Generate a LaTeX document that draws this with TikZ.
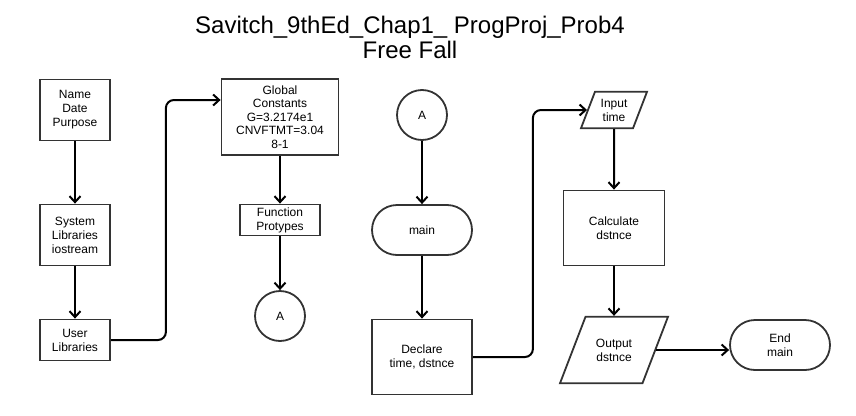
\documentclass[tikz,border=0pt]{standalone}
\usepackage{fontspec}
\setmainfont{Liberation Sans}
\usetikzlibrary{shapes.geometric,arrows.meta}

\begin{document}
\begin{tikzpicture}[x=1pt, y=-1pt,
	every node/.style={font=\fontsize{12}{14}\selectfont, align=center},
	proc/.style={draw=black!80, line width=1.8pt, rectangle, inner sep=0pt},
	term/.style={proc, rounded corners=25pt},
	jump/.style={circle, draw=black!80, line width=1.8pt, minimum size=50pt, inner sep=0pt},
	io/.style={trapezium, trapezium left angle=69, trapezium right angle=111,
		trapezium stretches body, draw=black!80, line width=1.8pt, inner xsep=0pt},
	arr/.style={-{Straight Barb[length=6pt,width=11pt]}, line width=2pt, rounded corners=8pt}]
		\useasboundingbox (0,0) rectangle (856,415);
		
		%Titel
		\node[font=\fontsize{24}{25}\selectfont] (title) at (410,37) {Savitch\_9thEd\_Chap1\_ ProgProj\_Prob4\\Free Fall};
		
		%Spalte 1
		\node[proc, minimum width=70, minimum height=61] (head) at (75,110) {Name\\Date\\Purpose};
		\node[proc, minimum width=70, minimum height=61] (sys) at (75,235) {System\\Libraries\\iostream};
		\node[proc, minimum width=70, minimum height=41] (user) at (75,340) {User\\Libraries};
		
		%Spalte 2
		\node[proc, minimum width=117, minimum height=76, font=\fontsize{12}{13.5}\selectfont] (glob) at (280,117) {Global\\Constants\\G=3.2174e1\\CNVFTMT=3.04\\8-1};
		\node[proc, minimum width=80, minimum height=31] (proto) at (280,220) {Function\\Protypes};
		\node[jump] (a1) at (280,316) {A};
		
		%Spalte 3
		\node[jump] (a2) at (422,115) {A};
		\node[term, minimum width=100, minimum height=50] (main) at (422,230) {main};
		\node[proc, minimum width=100, minimum height=75] (decl) at (422,357) {Declare\\time, dstnce};
		
		%Spalte 4
		\node[io, minimum width=66, inner ysep=7pt] (inp) at (614,110) {Input\\time};
		\node[proc, minimum width=101, minimum height=75] (calc) at (614,228) {Calculate\\dstnce};
		\node[io, minimum width=108, inner ysep=22pt] (outp) at (614,350) {Output\\dstnce};
		\node[term, minimum width=100, minimum height=50] (endm) at (780,345) {End\\main};
		
		%Verbindungen
		\draw[arr] (head) -- (sys);
		\draw[arr] (sys) -- (user);
		\draw[arr] (user.east) -- ++(55,0) |- ([yshift=17pt]glob.west);
		\draw[arr] (glob) -- (proto);
		\draw[arr] (proto) -- (a1);
		\draw[arr] (a2) -- (main);
		\draw[arr] (main) -- (decl);
		\draw[arr] (decl.east) -- ++(60,0) |- (inp.west);
		\draw[arr] (inp) -- (calc);
		\draw[arr] (calc) -- (outp);
		\draw[arr] (outp.east) -- (outp.east -| endm.west);
	\end{tikzpicture}
\end{document}
